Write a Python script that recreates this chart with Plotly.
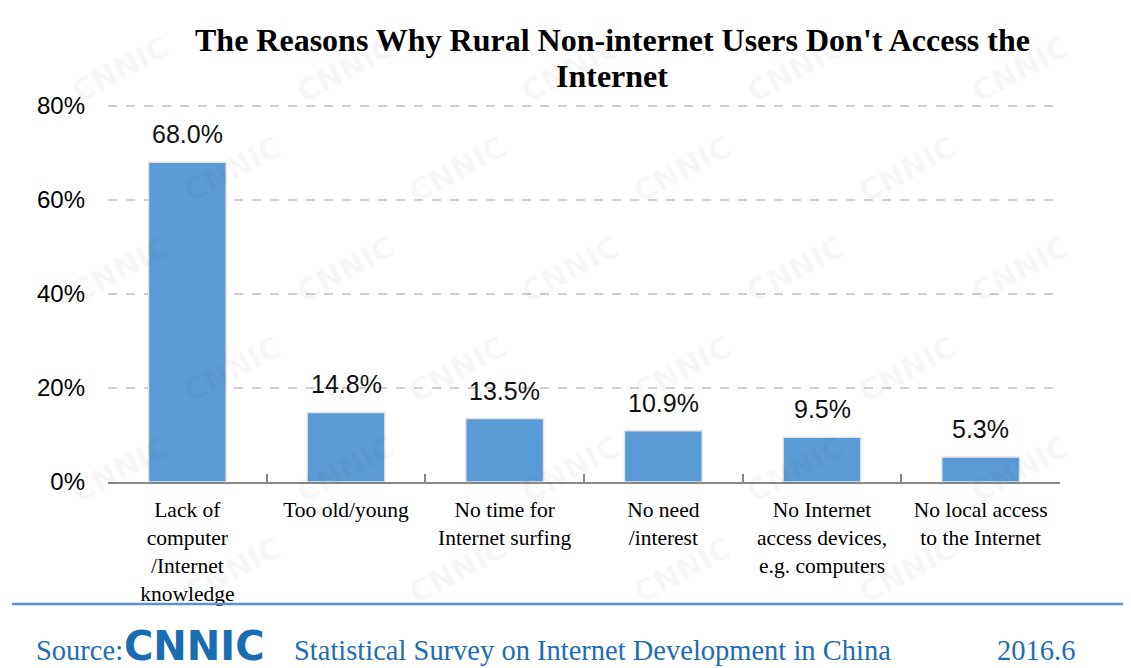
import plotly.graph_objects as go

categories = [
    "Lack of<br>computer<br>/Internet<br>knowledge",
    "Too old/young",
    "No time for<br>Internet surfing",
    "No need<br>/interest",
    "No Internet<br>access devices,<br>e.g. computers",
    "No local access<br>to the Internet",
]
values = [68.0, 14.8, 13.5, 10.9, 9.5, 5.3]
value_labels = ["68.0%", "14.8%", "13.5%", "10.9%", "9.5%", "5.3%"]
y_ticks = [0, 20, 40, 60, 80]
y_tick_labels = ["0%", "20%", "40%", "60%", "80%"]
y_max = 81
title_lines = ["The Reasons Why Rural Non-internet Users Don't Access the", "Internet"]

W, H = 1131, 668
OFF = 8  # browser body margin
# desired page-pixel positions of the plot area (0% at 482, 80% at 106)
PL, PR, PB = 108, 1060, 482
UNIT = (482 - 106) / 80.0
PT = PB - UNIT * y_max
L = PL - OFF
R = W - (PR - OFF)
T = PT - OFF
B = H - (PB - OFF)

def px(x):
    return (x - PL) / (PR - PL)

def py(y):
    return (PB - y) / (PB - PT)

fig = go.Figure()
fig.add_trace(go.Bar(
    x=categories, y=values, width=0.49,
    marker=dict(color="#5b9bd5", line=dict(color="#e4e4e4", width=1.5)),
    cliponaxis=False,
))

annotations = []
# faint watermarks
for row in range(6):
    for col in range(5):
        x = 120 + col * 225 + (row % 2) * 112
        y = 70 + row * 100
        if x > 1050:
            continue
        annotations.append(dict(x=px(x), y=py(y), xref="paper", yref="paper",
                                text="<b>CNNIC</b>", showarrow=False, textangle=-28,
                                yanchor="middle", xanchor="center",
                                font=dict(family="DejaVu Sans", size=30, color="rgba(0,0,0,0.035)")))

# value labels
for c, v, t in zip(categories, values, value_labels):
    annotations.append(dict(x=c, y=v, xref="x", yref="y", text=t, showarrow=False,
                            yanchor="bottom", yshift=12,
                            font=dict(family="Liberation Sans, Arial", size=25, color="#111")))

title_font = dict(family="Liberation Serif, Times New Roman", size=32, color="#000")
for line, yy in zip(title_lines, [40, 76]):
    annotations.append(dict(x=px(612), y=py(yy), xref="paper", yref="paper",
                            yanchor="middle", xanchor="center",
                            text=f"<b>{line}</b>", showarrow=False, font=title_font))

footer_font = dict(family="Liberation Serif", size=28.5, color="#1f6cb4")
annotations += [
    dict(x=px(34), y=py(650), xref="paper", yref="paper", xanchor="left", yanchor="middle",
         text="Source:", showarrow=False, font=footer_font),
    dict(x=px(122), y=py(646), xref="paper", yref="paper", xanchor="left", yanchor="middle",
         text="<b>CNNIC</b>", showarrow=False,
         font=dict(family="DejaVu Sans", size=40, color="#1a6cb3")),
    dict(x=px(292), y=py(650), xref="paper", yref="paper", xanchor="left", yanchor="middle",
         text="Statistical Survey on Internet Development in China", showarrow=False,
         font=footer_font),
    dict(x=px(1077), y=py(650), xref="paper", yref="paper", xanchor="right", yanchor="middle",
         text="2016.6", showarrow=False, font=footer_font),
]

shapes = [dict(type="line", xref="paper", yref="paper",
               x0=px(12), x1=px(1131), y0=py(604), y1=py(604),
               line=dict(color="#5b8fd0", width=2.5))]

fig.update_layout(
    width=W, height=H,
    margin=dict(l=L, r=R, t=T, b=B),
    paper_bgcolor="white", plot_bgcolor="white",
    showlegend=False,
    annotations=annotations, shapes=shapes,
    xaxis=dict(showgrid=False, showline=True, linecolor="#888", linewidth=2,
               ticks="inside", tickson="boundaries", ticklen=8, tickcolor="#888", tickwidth=2,
               ticklabelstandoff=7,
               tickfont=dict(family="Liberation Serif, Times New Roman", size=21.5, color="#000")),
    yaxis=dict(range=[0, y_max], tickvals=y_ticks, ticktext=y_tick_labels,
               showgrid=True, gridcolor="#d0d0d0", griddash="dash", gridwidth=1.5,
               zeroline=False, showline=False, ticks="",
               tickfont=dict(family="Liberation Sans, Arial", size=24, color="#000"),
               ticklabelstandoff=22),
)

fig.write_html("out.html")
